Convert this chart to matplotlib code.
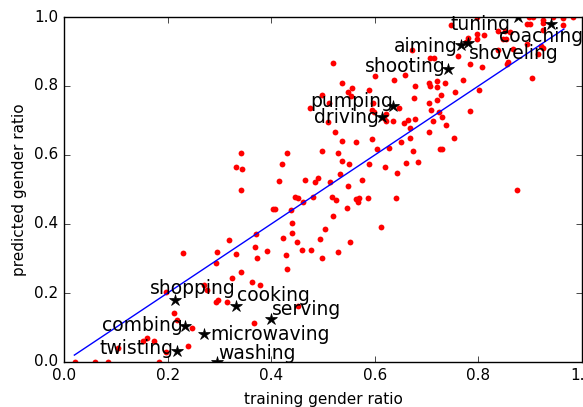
import numpy as np
import matplotlib
matplotlib.use('Agg')
import matplotlib.pyplot as plt
plt.style.use('classic')

# per-verb gender ratio: training set vs. model prediction
train_ratio = [
    0.021, 0.060, 0.085, 0.183, 0.104, 0.153, 0.161, 0.174, 0.196, 0.240,
    0.247, 0.218, 0.212, 0.196, 0.229, 0.271, 0.276, 0.297, 0.294, 0.314,
    0.324, 0.342, 0.294, 0.296, 0.318, 0.332, 0.362, 0.379, 0.367, 0.451,
    0.369, 0.372, 0.371, 0.392, 0.423, 0.429, 0.431, 0.449, 0.441, 0.441,
    0.403, 0.408, 0.439, 0.460, 0.476, 0.494, 0.499, 0.503, 0.519, 0.529,
    0.547, 0.553, 0.612,
    0.445, 0.452, 0.462, 0.481, 0.517, 0.526, 0.564, 0.569, 0.567, 0.587,
    0.640,
    0.342, 0.333, 0.343, 0.341, 0.431, 0.421, 0.415, 0.466, 0.485, 0.490,
    0.513, 0.532, 0.548, 0.576, 0.499, 0.528, 0.537, 0.551, 0.523, 0.536,
    0.563, 0.510, 0.475, 0.511, 0.499, 0.519, 0.537, 0.556, 0.549, 0.555,
    0.594, 0.604, 0.628, 0.650, 0.667, 0.673, 0.752, 0.726, 0.729, 0.588,
    0.619, 0.660, 0.683, 0.643, 0.874,
    0.747, 0.672, 0.707, 0.715, 0.760, 0.600, 0.637, 0.659, 0.677, 0.705,
    0.706, 0.721, 0.720, 0.736, 0.755, 0.588, 0.675, 0.704, 0.728, 0.720,
    0.596, 0.646, 0.709, 0.724, 0.595, 0.598, 0.622, 0.617, 0.621, 0.635,
    0.656, 0.665, 0.678, 0.712, 0.729, 0.667, 0.705, 0.737,
    0.797, 0.897, 0.906, 0.925, 0.944, 0.963, 0.983, 0.893, 0.899, 0.925,
    0.963, 0.925, 0.838, 0.851, 0.861, 0.797, 0.810, 0.847, 0.853, 0.797,
    0.779, 0.776, 0.894, 0.920, 0.924, 0.866, 0.837, 0.915, 0.855, 0.858,
    0.784, 0.806, 0.771, 0.904, 0.802, 0.784,
]
pred_ratio = [
    0.000, 0.000, 0.000, 0.000, 0.041, 0.061, 0.069, 0.062, 0.030, 0.046,
    0.100, 0.121, 0.142, 0.204, 0.317, 0.224, 0.209, 0.180, 0.173, 0.174,
    0.243, 0.262, 0.286, 0.320, 0.354, 0.312, 0.231, 0.223, 0.114, 0.162,
    0.332, 0.301, 0.370, 0.321, 0.358, 0.310, 0.271, 0.347, 0.374, 0.404,
    0.444, 0.443, 0.441, 0.325, 0.325, 0.357, 0.301, 0.385, 0.423, 0.320,
    0.445, 0.349, 0.392,
    0.479, 0.476, 0.465, 0.477, 0.478, 0.470, 0.472, 0.476, 0.463, 0.475,
    0.474,
    0.606, 0.564, 0.559, 0.499, 0.606, 0.575, 0.524, 0.528, 0.521, 0.532,
    0.521, 0.546, 0.511, 0.528, 0.612, 0.607, 0.583, 0.574, 0.666, 0.641,
    0.637, 0.695, 0.735, 0.752, 0.774, 0.866, 0.809, 0.793, 0.782, 0.771,
    0.646, 0.617, 0.620, 0.639, 0.648, 0.613, 0.650, 0.617, 0.617, 0.575,
    0.566, 0.576, 0.580, 0.549, 0.499,
    0.977, 0.904, 0.882, 0.880, 0.887, 0.829, 0.817, 0.832, 0.800, 0.810,
    0.800, 0.814, 0.798, 0.808, 0.782, 0.788, 0.764, 0.752, 0.774, 0.759,
    0.752, 0.737, 0.730, 0.725, 0.730, 0.725, 0.719, 0.706, 0.698, 0.698,
    0.692, 0.701, 0.704, 0.700, 0.711, 0.677, 0.666, 0.687,
    1.000, 1.000, 1.000, 0.992, 1.000, 0.996, 1.000, 0.979, 0.979, 0.984,
    0.977, 0.962, 0.959, 0.959, 0.957, 0.952, 0.948, 0.936, 0.936, 0.936,
    0.940, 0.928, 0.921, 0.917, 0.909, 0.906, 0.903, 0.892, 0.863, 0.870,
    0.863, 0.856, 0.817, 0.824, 0.788, 0.728,
]

# highlighted verbs
verbs = ['shopping', 'cooking', 'serving', 'combing', 'microwaving',
         'twisting', 'washing', 'tuning', 'coaching', 'aiming',
         'shoveling', 'shooting', 'pumping', 'driving']
verb_train = [0.215, 0.333, 0.400, 0.233, 0.270, 0.218, 0.296,
              0.876, 0.941, 0.767, 0.779, 0.742, 0.635, 0.613]
verb_pred = [0.180, 0.162, 0.124, 0.105, 0.081, 0.033, 0.001,
             1.000, 0.980, 0.919, 0.924, 0.849, 0.742, 0.709]

# reference line
fit_x = [0.02, 0.965]
fit_y = [0.02, 0.965]

# label offsets (pixels) so the names don't pile up
label_offsets = [(-25, 6), (1, 5), (1, 4), (-83, -5), (6, -6),
                 (-77, -3), (1, 3), (-67, -13), (-52, -18), (-67, -7),
                 (1, -16), (-83, -3), (-83, -1), (-68, -6)]

fig = plt.figure(figsize=(5.83, 4.07), dpi=100, facecolor='white')
ax = fig.add_axes([64/583., 45/407., 518/583., 345/407.])

ax.plot(train_ratio, pred_ratio, 'o', color='r', markersize=4.2,
        markeredgewidth=0)
ax.plot(fit_x, fit_y, '-', color='b', linewidth=1)
ax.plot(verb_train, verb_pred, '*', color='k', markersize=9,
        markeredgewidth=0.5)

for name, x, y, off in zip(verbs, verb_train, verb_pred, label_offsets):
    ax.annotate(name, (x, y), xytext=off, textcoords='offset pixels',
                fontsize=13.5, ha='left', va='baseline')

ax.set_xlim(0, 1)
ax.set_ylim(0, 1)
ax.set_xticks(np.arange(0, 1.01, 0.2))
ax.set_yticks(np.arange(0, 1.01, 0.2))
ax.tick_params(labelsize=11, direction='in', length=4.5)
ax.set_xlabel('training gender ratio', fontsize=11, labelpad=7)
ax.set_ylabel('predicted gender ratio', fontsize=11)

fig.savefig('out.png', dpi=100, facecolor='white')
